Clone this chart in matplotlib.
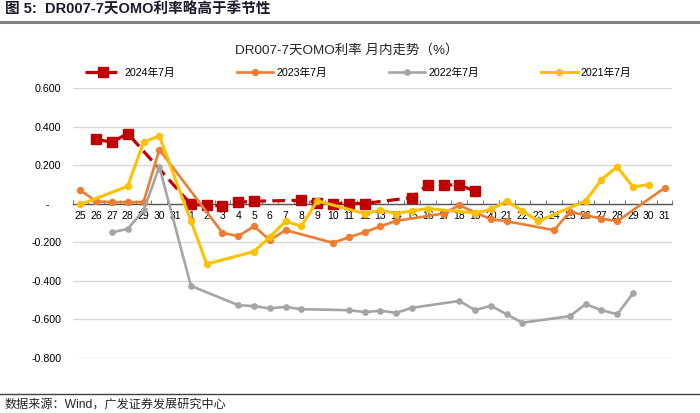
import matplotlib
matplotlib.use("Agg")
import matplotlib.pyplot as plt
import numpy as np
from matplotlib.lines import Line2D

plt.rcParams["font.family"] = ["Liberation Sans", "Noto Sans CJK SC"]

nan = np.nan

# category labels: last days of June, then July 1..31
days = [str(d) for d in range(25, 32)] + [str(d) for d in range(1, 32)]

# DR007 - 7d OMO spread (%), missing = non-trading day
s2024 = [nan, 0.334, 0.319, 0.364, nan, nan, nan,
         -0.003, -0.009, -0.011, 0.008, 0.013, nan, nan, 0.018, 0.006, 0.001,
         0.001, 0.001, nan, nan, 0.032, 0.099, 0.099, 0.096, 0.066,
         nan, nan, nan, nan, nan, nan, nan, nan, nan, nan, nan, nan]
s2023 = [0.070, 0.012, 0.008, 0.008, 0.008, 0.281, nan,
         nan, nan, -0.151, -0.168, -0.117, -0.189, -0.137, nan, nan, -0.203,
         -0.174, -0.148, -0.117, -0.089, nan, nan, -0.051, -0.008, -0.046,
         -0.080, -0.091, nan, nan, -0.137, -0.042, -0.060, -0.077, -0.091,
         nan, nan, 0.082]
s2022 = [nan, nan, -0.149, -0.130, -0.035, 0.191, nan,
         -0.426, nan, nan, -0.526, -0.531, -0.543, -0.535, -0.547, nan, nan,
         -0.552, -0.562, -0.555, -0.566, -0.540, nan, nan, -0.504, -0.552,
         -0.529, -0.574, -0.617, nan, nan, -0.583, -0.521, -0.552, -0.573,
         -0.465, nan, nan]
s2021 = [-0.004, nan, nan, 0.091, 0.319, 0.351, nan,
         -0.089, -0.313, nan, nan, -0.248, -0.172, -0.091, -0.117, 0.015, nan,
         nan, -0.051, -0.034, -0.051, -0.037, -0.025, nan, nan, -0.048,
         -0.030, 0.013, -0.037, -0.091, nan, nan, 0.015, 0.125, 0.191, 0.087,
         0.099, nan]

labels = ["2024年7月", "2023年7月", "2022年7月", "2021年7月"]
yticks = [-0.8, -0.6, -0.4, -0.2, 0.0, 0.2, 0.4, 0.6]

fig = plt.figure(figsize=(7, 4.13), dpi=100)
ax = fig.add_axes([72.5 / 700, 55 / 413, 600 / 700, 270 / 413])

x = np.arange(len(days))


def draw(vals, **kw):
    v = np.array(vals, dtype=float)
    m = ~np.isnan(v)
    return ax.plot(x[m], v[m], **kw)[0]


h1 = draw(s2024, color="#C00000", lw=2.3, ls=(0, (4, 2)), marker="s",
          markersize=7.5, zorder=3, label=labels[0])
h2 = draw(s2023, color="#ED7D31", lw=1.9, marker="o", markersize=4.3,
          zorder=4, label=labels[1])
h3 = draw(s2022, color="#A5A5A5", lw=1.9, marker="o", markersize=3.8,
          zorder=5, label=labels[2])
h4 = draw(s2021, color="#FFC000", lw=2.2, marker="o", markersize=4.3,
          zorder=6, label=labels[3])

ax.set_xlim(-0.5, len(days) - 0.5)
ax.set_ylim(-0.8, 0.6)
ax.set_yticks(yticks)
ax.set_yticklabels([f"{v:.3f}" if abs(v) > 1e-9 else "-    " for v in yticks])
ax.yaxis.grid(True, color="#D9D9D9", lw=1)
ax.set_axisbelow(True)

for s in ["left", "right", "top"]:
    ax.spines[s].set_visible(False)
ax.spines["bottom"].set_position(("data", 0))
ax.spines["bottom"].set_color("#595959")
ax.spines["bottom"].set_linewidth(1)
ax.spines["bottom"].set_zorder(2)

ax.set_xticks(x)
ax.set_xticklabels(days)
ax.set_xticks(np.arange(-0.5, len(days), 1), minor=True)
ax.tick_params(axis="x", which="major", length=0, pad=5, labelsize=7.5,
               colors="#000000")
ax.tick_params(axis="x", which="minor", direction="in", length=3,
               color="#595959")
ax.tick_params(axis="y", length=0, pad=8, labelsize=7.7)

fig.text(347 / 700, 1 - 50 / 413, "DR007-7天OMO利率 月内走势（%）",
         ha="center", va="center", fontsize=9.7, color="#262626")

fig.legend(handles=[h1, h2, h3, h4], loc="center",
           bbox_to_anchor=(358 / 700, 1 - 73 / 413), ncol=4, frameon=False,
           fontsize=7.7, handlelength=3.4, handletextpad=0.3,
           columnspacing=5.8, borderpad=0)

# report header and footer
fig.text(5 / 700, 1 - 10 / 413, "图 5:  DR007-7天OMO利率略高于季节性",
         ha="left", va="center", fontsize=10.5, fontweight="bold",
         color="#1a1a2e")
fig.add_artist(Line2D([0, 1], [1 - 21.5 / 413] * 2, transform=fig.transFigure,
                      color="#7F7F7F", lw=2.2))
fig.add_artist(Line2D([0, 1], [1 - 394 / 413] * 2, transform=fig.transFigure,
                      color="#404040", lw=1))
fig.text(5 / 700, 1 - 405 / 413, "数据来源：Wind，广发证券发展研究中心",
         ha="left", va="center", fontsize=8.7, color="#262626")

fig.savefig("out.png", dpi=100)
